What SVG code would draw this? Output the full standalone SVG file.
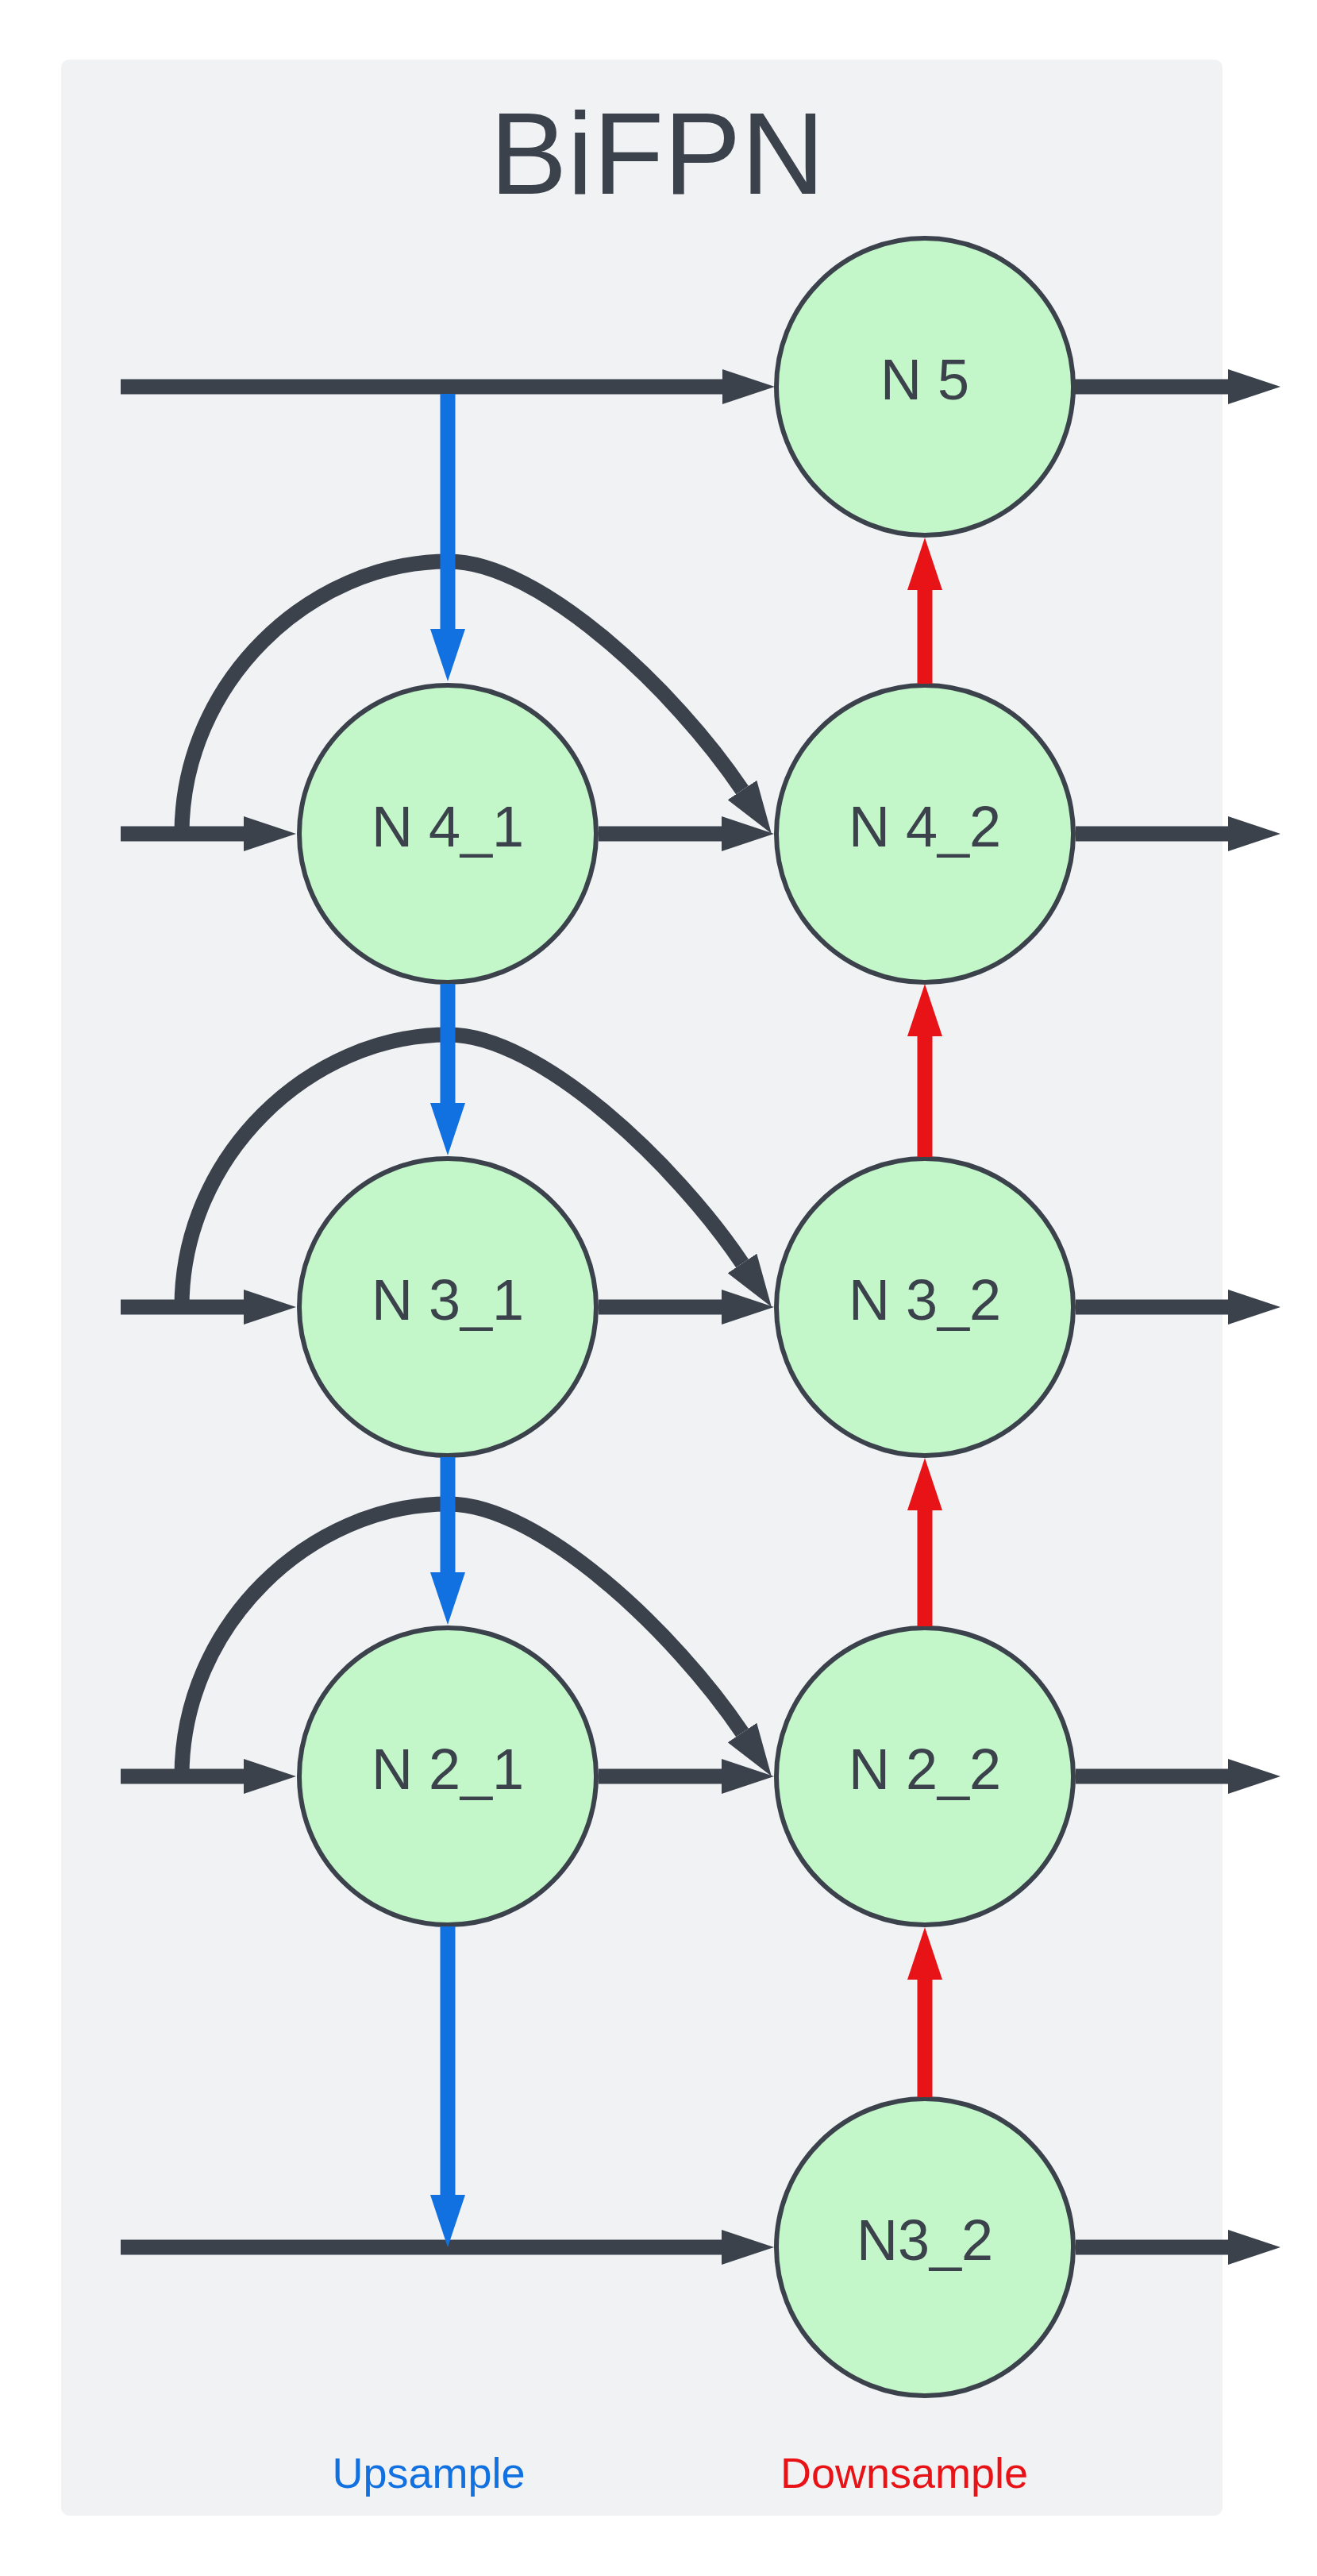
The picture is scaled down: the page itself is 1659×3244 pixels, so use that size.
<svg xmlns="http://www.w3.org/2000/svg" width="1659" height="3244" viewBox="0 0 1659 3244">
  <style>
    .panel { fill: #f1f2f4; }
    .node circle { fill: #c3f7c9; stroke: #3b424c; stroke-width: 6; }
    .node text { font-family: "Liberation Sans", Arial, sans-serif; font-size: 72px; fill: #3b424c; text-anchor: middle; }
    .title { font-family: "Liberation Sans", Arial, sans-serif; font-size: 146px; fill: #3b424c; text-anchor: middle; }
    .legend { font-family: "Liberation Sans", Arial, sans-serif; font-size: 54px; text-anchor: middle; }
    .flow { fill: none; stroke: #3b424c; stroke-width: 19; marker-end: url(#headDark); }
    .up { fill: none; stroke: #1271e1; stroke-width: 19; marker-end: url(#headBlue); }
    .down { fill: none; stroke: #e81317; stroke-width: 19; marker-end: url(#headRed); }
  </style>
  <defs>
    <marker id="headDark" markerUnits="userSpaceOnUse" markerWidth="66" markerHeight="44" refX="0" refY="22" orient="auto">
      <path d="M0,0 L66,22 L0,44 z" fill="#3b424c"/>
    </marker>
    <marker id="headBlue" markerUnits="userSpaceOnUse" markerWidth="66" markerHeight="44" refX="0" refY="22" orient="auto">
      <path d="M0,0 L66,22 L0,44 z" fill="#1271e1"/>
    </marker>
    <marker id="headRed" markerUnits="userSpaceOnUse" markerWidth="66" markerHeight="44" refX="0" refY="22" orient="auto">
      <path d="M0,0 L66,22 L0,44 z" fill="#e81317"/>
    </marker>
  </defs>

  <!-- container -->
  <rect class="panel" x="77" y="75" width="1463" height="3093" rx="10" ry="10"/>
  <text class="title" x="828" y="244">BiFPN</text>

  <!-- nodes -->
  <g id="n5" class="node">
    <circle cx="1165" cy="487" r="187"/>
    <text x="1165" y="503">N 5</text>
  </g>
  <g id="n4_1" class="node">
    <circle cx="564" cy="1050" r="187"/>
    <text x="564" y="1066">N 4_1</text>
  </g>
  <g id="n4_2" class="node">
    <circle cx="1165" cy="1050" r="187"/>
    <text x="1165" y="1066">N 4_2</text>
  </g>
  <g id="n3_1" class="node">
    <circle cx="564" cy="1646" r="187"/>
    <text x="564" y="1662">N 3_1</text>
  </g>
  <g id="n3_2" class="node">
    <circle cx="1165" cy="1646" r="187"/>
    <text x="1165" y="1662">N 3_2</text>
  </g>
  <g id="n2_1" class="node">
    <circle cx="564" cy="2237" r="187"/>
    <text x="564" y="2253">N 2_1</text>
  </g>
  <g id="n2_2" class="node">
    <circle cx="1165" cy="2237" r="187"/>
    <text x="1165" y="2253">N 2_2</text>
  </g>
  <g id="n3_2_bottom" class="node">
    <circle cx="1165" cy="2830" r="187"/>
    <text x="1165" y="2846">N3_2</text>
  </g>

  <!-- connectors -->
  <g id="connectors">
    <!-- level 5 -->
    <path class="flow" d="M152,487 H910"/>
    <path class="flow" d="M1354,487 H1547"/>
    <!-- level 4 -->
    <path class="flow" d="M229,1050 C229,860 390,707 565,707 C680,707 851,870 935,995"/>
    <path class="flow" d="M152,1050 H307"/>
    <path class="flow" d="M754,1050 H909"/>
    <path class="flow" d="M1355,1050 H1547"/>
    <!-- level 3 -->
    <path class="flow" d="M229,1646 C229,1456 390,1303 565,1303 C680,1303 851,1466 935,1591"/>
    <path class="flow" d="M152,1646 H307"/>
    <path class="flow" d="M754,1646 H909"/>
    <path class="flow" d="M1355,1646 H1547"/>
    <!-- level 2 -->
    <path class="flow" d="M229,2237 C229,2047 390,1894 565,1894 C680,1894 851,2057 935,2182"/>
    <path class="flow" d="M152,2237 H307"/>
    <path class="flow" d="M754,2237 H909"/>
    <path class="flow" d="M1355,2237 H1547"/>
    <!-- bottom level -->
    <path class="flow" d="M152,2830 H909"/>
    <path class="flow" d="M1355,2830 H1547"/>

    <!-- top-down path -->
    <path class="up" d="M564,496 V792"/>
    <path class="up" d="M564,1239 V1389"/>
    <path class="up" d="M564,1835 V1980"/>
    <path class="up" d="M564,2426 V2764"/>

    <!-- bottom-up path -->
    <path class="down" d="M1165,2641 V2493"/>
    <path class="down" d="M1165,2048 V1902"/>
    <path class="down" d="M1165,1457 V1305"/>
    <path class="down" d="M1165,861 V743"/>
  </g>

  <!-- legend -->
  <text class="legend" x="540" y="3133" fill="#1271e1">Upsample</text>
  <text class="legend" x="1139" y="3133" fill="#e81317">Downsample</text>
</svg>
